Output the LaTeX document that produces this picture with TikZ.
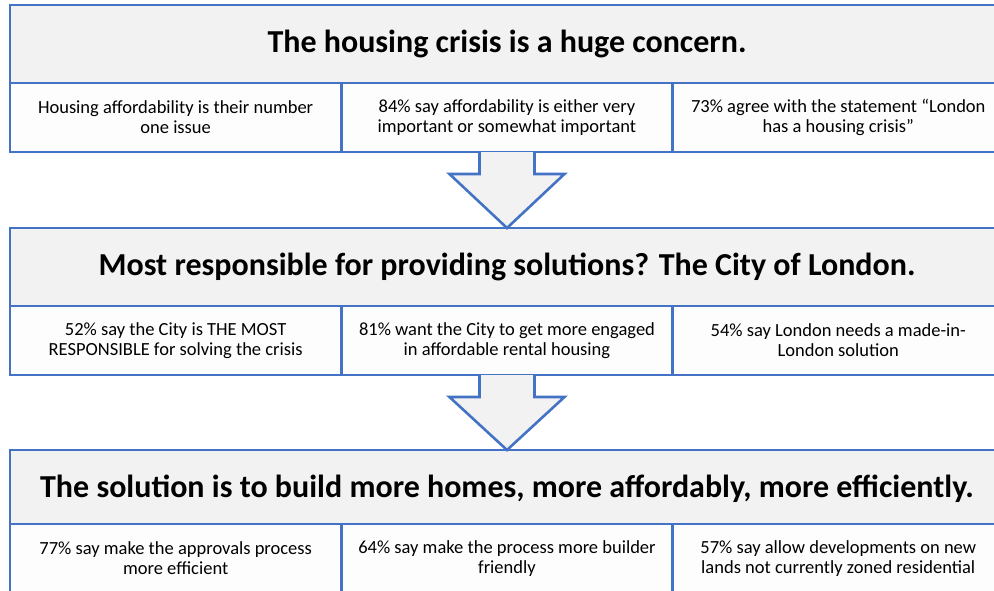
\documentclass[tikz,border=0pt]{standalone}
\usepackage{fontspec}
\setmainfont{Carlito}
\usetikzlibrary{calc}
\definecolor{frameblue}{HTML}{4472C4}
\definecolor{headgray}{HTML}{F2F2F2}
\definecolor{cellwhite}{HTML}{FDFDFD}
\tikzset{
  every node/.style={inner sep=0pt, outer sep=0pt},
  headbox/.style={draw=frameblue, line width=2.6pt, fill=headgray,
    minimum width=994pt, minimum height=78pt, anchor=north west,
    font=\fontsize{32}{36}\selectfont\bfseries},
  cellbox/.style={draw=frameblue, line width=2.6pt, fill=cellwhite,
    minimum width=331.3pt, minimum height=69pt, anchor=north west,
    align=center, font=\fontsize{18.5}{20}\selectfont},
  downarrow/.style={fill=headgray},
  arrowedge/.style={draw=frameblue, line width=2.6pt, line join=miter},
}
\begin{document}
\begin{tikzpicture}[x=1pt,y=-1pt]
\useasboundingbox (0,0) rectangle (994,590);
\clip (0,0) rectangle (994,590);

% tier 1
\node[headbox] (h1) at (10,5) {The housing crisis is a huge concern.};
\node[cellbox] (c11) at (10,83) {Housing affordability is their number\\one issue};
\node[cellbox] (c12) at (c11.north east) {84\% say affordability is either very\\important or somewhat important};
\node[cellbox] (c13) at (c12.north east) {73\% agree with the statement “London\\has a housing crisis”};

% tier 2
\node[headbox] (h2) at (10,228) {Most responsible for providing solutions? The City of London.};
\node[cellbox] (c21) at (10,306) {52\% say the City is THE MOST\\RESPONSIBLE for solving the crisis};
\node[cellbox] (c22) at (c21.north east) {81\% want the City to get more engaged\\in affordable rental housing};
\node[cellbox] (c23) at (c22.north east) {54\% say London needs a made-in-\\London solution};

% tier 3
\node[headbox] (h3) at (10,450) {The solution is to build more homes, more affordably, more efficiently.};
\node[cellbox] (c31) at (10,524) {77\% say make the approvals process\\more efficient};
\node[cellbox] (c32) at (c31.north east) {64\% say make the process more builder\\friendly};
\node[cellbox] (c33) at (c32.north east) {57\% say allow developments on new\\lands not currently zoned residential};

% block arrows between the tiers: shaft from the cell row, head down to the next header
\foreach \src/\dst in {c12/h2, c22/h3}{
  \coordinate (sl) at ($(\src.south)+(-27.5,0)$);
  \coordinate (sr) at ($(\src.south)+(27.5,0)$);
  \coordinate (nl) at ($(\src.south)+(-27.5,22)$);
  \coordinate (nr) at ($(\src.south)+(27.5,22)$);
  \coordinate (hl) at ($(\src.south)+(-57.5,22)$);
  \coordinate (hr) at ($(\src.south)+(57.5,22)$);
  \coordinate (tip) at (\dst.north);
  \fill[downarrow] (sl) -- (nl) -- (hl) -- (tip) -- (hr) -- (nr) -- (sr) -- cycle;
  \draw[arrowedge] (sl) -- (nl) -- (hl) -- (tip) -- (hr) -- (nr) -- (sr);
}
\end{tikzpicture}
\end{document}
